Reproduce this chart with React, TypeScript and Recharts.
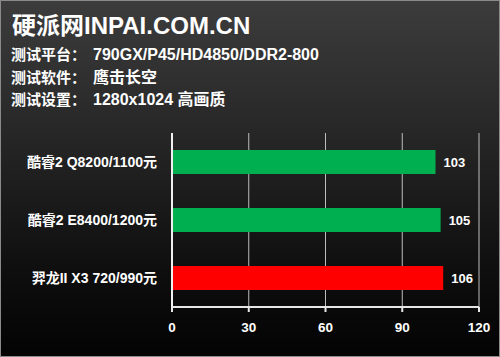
import React from "react";
import { BarChart, Bar, XAxis, YAxis, CartesianGrid, Cell, LabelList } from "recharts";

const categories = ["酷睿2 Q8200/1100元", "酷睿2 E8400/1200元", "羿龙II X3 720/990元"];
const values = [103, 105, 106];
const barColors = ["#00b050", "#00b050", "#ff0000"];
const xTicks = [0, 30, 60, 90, 120];
const title = "硬派网INPAI.COM.CN";
const infoLabels = ["测试平台：", "测试软件：", "测试设置："];
const infoValues = ["790GX/P45/HD4850/DDR2-800", "鹰击长空", "1280x1024 高画质"];

const data = categories.map((name, i) => ({ name, value: values[i], color: barColors[i] }));

const FONT = '"Liberation Sans", Arial, "Noto Sans CJK SC", sans-serif';

export default function App() {
  return (
    <div
      style={{
        position: "absolute",
        left: 0,
        top: 0,
        width: 500,
        height: 357,
        boxSizing: "border-box",
        border: "1px solid #8a8a8a",
        background: "linear-gradient(to bottom, #3c3c3c 0%, #282828 35%, #0f0f0f 75%, #030303 100%)",
        fontFamily: FONT,
        color: "#fff",
        overflow: "hidden",
      }}
    >
      <div
        style={{
          position: "absolute",
          left: 11,
          top: 9,
          fontSize: 24,
          fontWeight: "bold",
          lineHeight: "32px",
          whiteSpace: "nowrap",
        }}
      >
        {title}
      </div>
      {infoLabels.map((lab, i) => (
        <div
          key={lab}
          style={{
            position: "absolute",
            left: 10,
            top: 43 + i * 22.5,
            fontSize: 15,
            fontWeight: "bold",
            lineHeight: "22px",
            whiteSpace: "nowrap",
          }}
        >
          <span>{lab}</span>
          <span style={{ position: "absolute", left: 82, fontSize: 16 }}>{infoValues[i]}</span>
        </div>
      ))}
      <div style={{ position: "absolute", left: -1, top: -1 }}>
        <BarChart
          width={500}
          height={357}
          data={data}
          layout="vertical"
          margin={{ top: 133, right: 21, bottom: 0, left: 0 }}
          barSize={24}
        >
          <CartesianGrid vertical={true} horizontal={false} stroke="#bdbdbd" strokeWidth={1} />
          <XAxis
            type="number"
            domain={[0, 120]}
            ticks={xTicks}
            height={50}
            axisLine={{ stroke: "#e6e6e6", strokeWidth: 2 }}
            tickLine={{ stroke: "#e6e6e6", strokeWidth: 2 }}
            tickSize={5}
            tickMargin={10}
            tick={{ fill: "#fff", fontSize: 13.5, fontWeight: "bold", fontFamily: FONT }}
            interval={0}
          />
          <YAxis
            type="category"
            dataKey="name"
            width={172}
            axisLine={{ stroke: "#f0f0f0", strokeWidth: 2 }}
            tickLine={false}
            tickSize={0}
            tickMargin={15}
            tick={{ fill: "#fff", fontSize: 14, fontWeight: "bold", fontFamily: FONT }}
          />
          <Bar dataKey="value" isAnimationActive={false}>
            {data.map((d, i) => (
              <Cell key={i} fill={d.color} />
            ))}
            <LabelList
              dataKey="value"
              position="right"
              offset={8}
              fill="#fff"
              style={{ fontSize: 13, fontWeight: "bold", fontFamily: FONT }}
            />
          </Bar>
        </BarChart>
      </div>
    </div>
  );
}
